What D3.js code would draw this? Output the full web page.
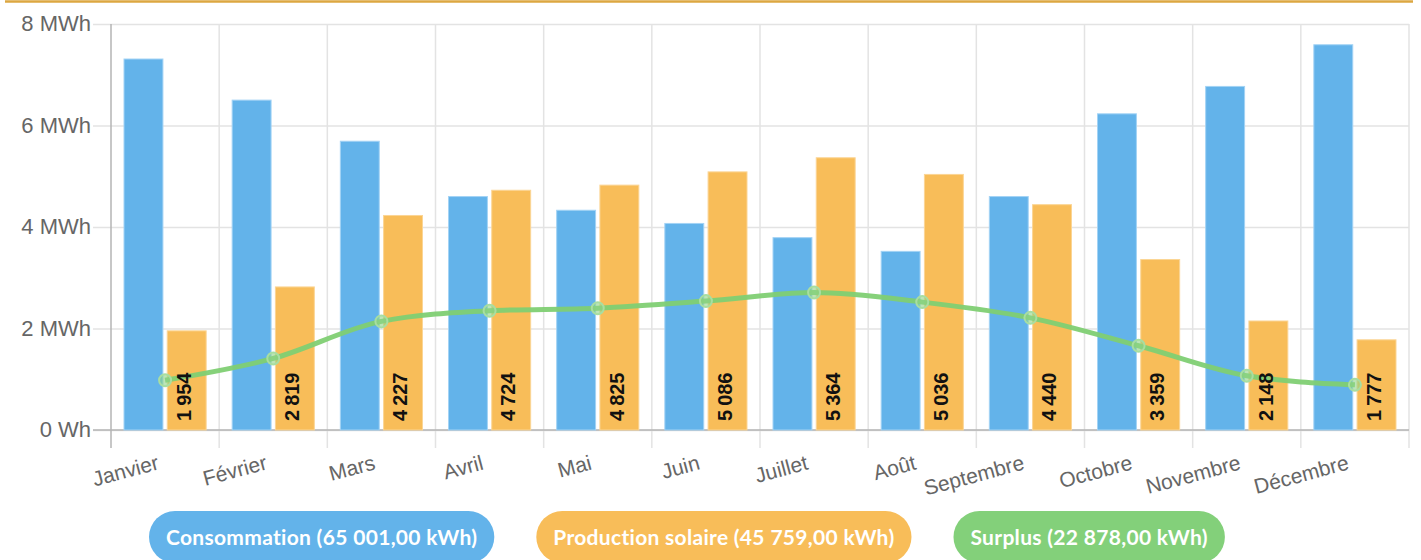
<!DOCTYPE html>
<meta charset="utf-8">
<head>
<style>
body { margin: 0; background: #fff; }
.axis text { font: 22px "Liberation Sans", Arial, sans-serif; fill: #666; }
.legend text { font: bold 21px Lato, "Open Sans", sans-serif; fill: #fff; letter-spacing: 0.3px; }
</style>
</head>
<body>
<script src="https://d3js.org/d3.v7.min.js"></script>
<script>

// data (kWh)
var months = ["Janvier", "Février", "Mars", "Avril", "Mai", "Juin", "Juillet", "Août", "Septembre", "Octobre", "Novembre", "Décembre"];
var consommation = [7310, 6500, 5690, 4600, 4330, 4070, 3790, 3520, 4600, 6230, 6770, 7591];
var production = [1954, 2819, 4227, 4724, 4825, 5086, 5364, 5036, 4440, 3359, 2148, 1777];
var surplus = [980, 1410, 2140, 2350, 2400, 2540, 2708, 2520, 2210, 1660, 1070, 890];
var yTicks = [0, 2000, 4000, 6000, 8000];
var legendLabels = ["Consommation (65\u202F001,00 kWh)", "Production solaire (45\u202F759,00 kWh)", "Surplus (22\u202F878,00 kWh)"];

var blue = "#63b3ea", orange = "#f8bd59", green = "#80cf73";

var W = 1421, H = 560;
var mLeft = 111, mRight = 1409, mTop = 24, mBottom = 430;

var svg = d3.select("body").append("svg")
    .attr("width", W)
    .attr("height", H);

// top rule
svg.append("line")
    .attr("x1", 5).attr("x2", 1413)
    .attr("y1", 1.5).attr("y2", 1.5)
    .attr("stroke", "#dca741")
    .attr("stroke-width", 2.5);

var x = d3.scaleBand().domain(months).range([mLeft, mRight]);
var x1 = d3.scaleBand().domain(["c", "p"]).range([13, x.bandwidth() - 13]).paddingInner(0.1);
var y = d3.scaleLinear().domain([0, 8000]).range([mBottom, mTop]);

var fmt = function (v) { return v == 0 ? "0 Wh" : (v / 1000) + " MWh"; };

// y axis + horizontal grid
var yAxis = svg.append("g")
    .attr("class", "axis")
    .attr("transform", "translate(" + mLeft + ",0)")
    .call(d3.axisLeft(y).tickValues(yTicks).tickFormat(fmt).tickSize(-(mRight - mLeft)).tickSizeOuter(0));
yAxis.select(".domain").remove();
yAxis.selectAll("line")
    .attr("x1", -18)
    .attr("stroke", "#e3e3e3")
    .attr("stroke-width", 1.5);
yAxis.selectAll("text").attr("x", -20).attr("dy", "0.3em");

// vertical grid at band edges
var edges = months.map(function (m) { return x(m); }).concat([mRight]);
svg.append("g").selectAll("line")
    .data(edges)
  .enter().append("line")
    .attr("x1", function (d) { return d; })
    .attr("x2", function (d) { return d; })
    .attr("y1", mTop)
    .attr("y2", mBottom + 18)
    .attr("stroke", function (d, i) { return i == 0 ? "#b5b5b5" : "#e3e3e3"; })
    .attr("stroke-width", 1.5);

// baseline
svg.append("line")
    .attr("x1", mLeft - 18).attr("x2", mRight)
    .attr("y1", mBottom).attr("y2", mBottom)
    .attr("stroke", "#b5b5b5")
    .attr("stroke-width", 1.5);

// x labels
var xAxis = svg.append("g")
    .attr("class", "axis")
    .attr("transform", "translate(0," + mBottom + ")")
    .call(d3.axisBottom(x).tickSize(0));
xAxis.select(".domain").remove();
xAxis.selectAll("text")
    .style("text-anchor", "end")
    .style("font-size", "21px")
    .attr("dy", 0)
    .attr("y", 0)
    .attr("transform", "translate(-5,39) rotate(-15)");

// bars
var groups = svg.append("g").selectAll("g")
    .data(months)
  .enter().append("g")
    .attr("transform", function (d) { return "translate(" + x(d) + ",0)"; });

groups.append("rect")
    .attr("x", x1("c"))
    .attr("width", x1.bandwidth())
    .attr("y", function (d, i) { return y(consommation[i]); })
    .attr("height", function (d, i) { return mBottom - y(consommation[i]); })
    .attr("fill", blue)
    .attr("stroke", "#a3d3f5")
    .attr("stroke-width", 1);

groups.append("rect")
    .attr("x", x1("p"))
    .attr("width", x1.bandwidth())
    .attr("y", function (d, i) { return y(production[i]); })
    .attr("height", function (d, i) { return mBottom - y(production[i]); })
    .attr("fill", orange)
    .attr("stroke", "#fbd595")
    .attr("stroke-width", 1);

// surplus line
var cx = function (d, i) { return x(months[i]) + x.bandwidth() / 2; };
var line = d3.line()
    .x(cx)
    .y(function (d) { return y(d); })
    .curve(d3.curveMonotoneX);

svg.append("path")
    .datum(surplus)
    .attr("d", line)
    .attr("fill", "none")
    .attr("stroke", green)
    .attr("stroke-width", 5)
    .attr("stroke-opacity", 0.95);

svg.append("g").selectAll("circle")
    .data(surplus)
  .enter().append("circle")
    .attr("cx", cx)
    .attr("cy", function (d) { return y(d); })
    .attr("r", 6)
    .attr("fill", "#8fd487")
    .attr("fill-opacity", 0.6)
    .attr("stroke", "#a8dea1")
    .attr("stroke-width", 2);

// value labels on production bars (above the line)
svg.append("g").selectAll("text")
    .data(production)
  .enter().append("text")
    .attr("transform", function (d, i) {
      return "translate(" + (x(months[i]) + x1("p") + x1.bandwidth() / 2 - 3) + "," + (mBottom - 9) + ") rotate(-90)";
    })
    .attr("dy", "0.36em")
    .style("font", "bold 20px 'Liberation Sans', Arial, sans-serif")
    .style("fill", "#111")
    .text(function (d) { return d3.format(",")(d).replace(/,/g, "\u202F"); });

// legend pills
var legend = svg.append("g").attr("class", "legend");
var lx = 149;
[blue, orange, "#83d07a"].forEach(function (c, i) {
  var g = legend.append("g");
  var r = g.append("rect").attr("fill", c);
  var t = g.append("text").text(legendLabels[i]).attr("y", 538).attr("dy", "0.35em");
  var tw = t.node().getComputedTextLength();
  var pw = tw + 34;
  r.attr("x", lx).attr("y", 511).attr("width", pw).attr("height", 52).attr("rx", 26);
  t.attr("x", lx + 17);
  lx += pw + 42;
});

</script>
</body>
